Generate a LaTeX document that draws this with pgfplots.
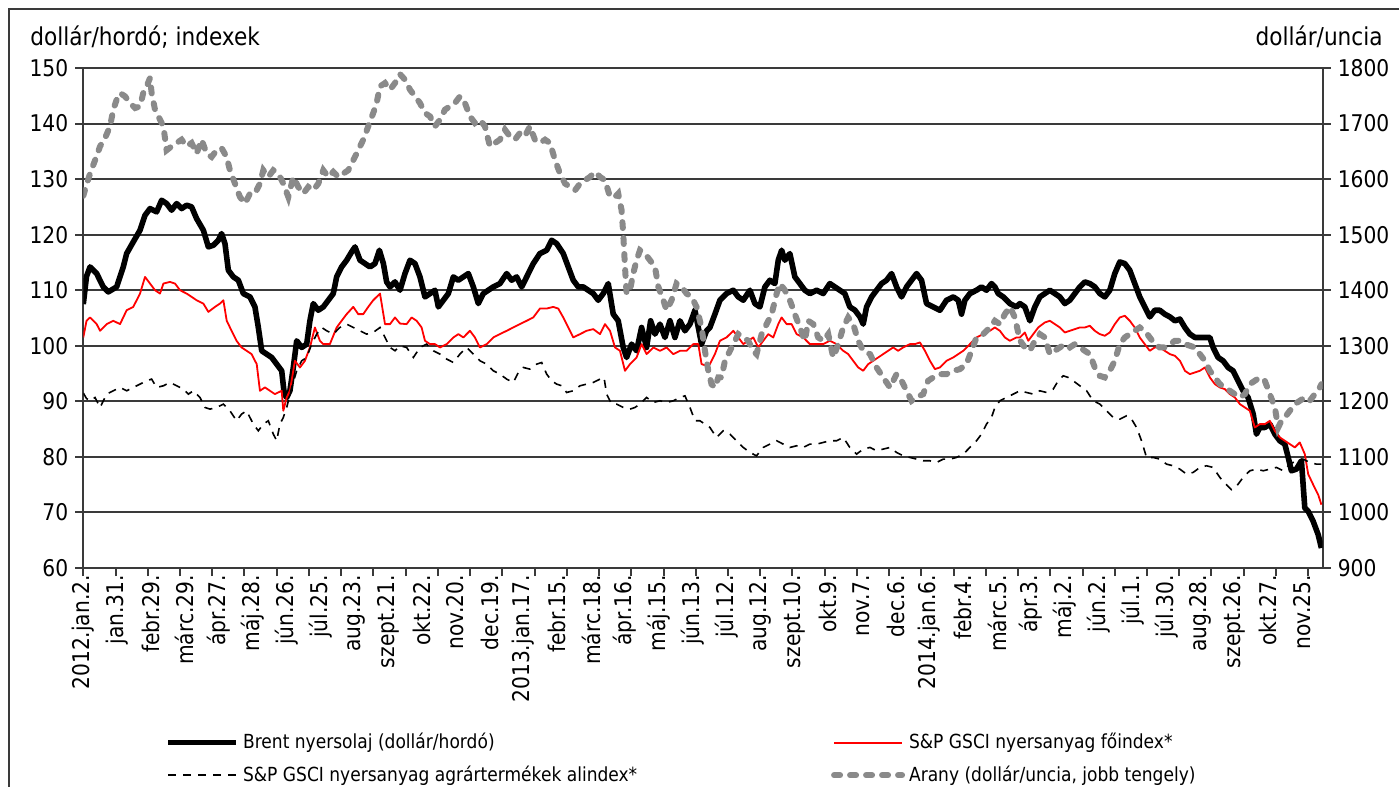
\documentclass[border=0pt]{standalone}
\usepackage{fontspec}
\setmainfont{DejaVu Sans}[FakeStretch=0.88]
\usepackage{pgfplots}
\pgfplotsset{compat=1.18}
\definecolor{gridc}{HTML}{3A3A3A}
\definecolor{goldc}{HTML}{8A8A8A}
\newcommand{\tickfont}{\fontsize{11.5}{13}\selectfont}
\newcommand{\legfont}{\fontsize{9.7}{11}\selectfont}
\newcommand{\unitfont}{\fontsize{12.3}{14}\selectfont}

\begin{document}
\begin{tikzpicture}
\path[use as bounding box] (0pt,0pt) rectangle (699.5pt,-393.5pt);
\draw[gridc, line width=1pt] (4.5pt,-420pt) -- (4.5pt,-4.5pt) -- (720pt,-4.5pt);
\node[anchor=base west, font=\unitfont, inner sep=0pt] at (15pt,-23pt) {dollár/hordó; indexek};
\node[anchor=base east, font=\unitfont, inner sep=0pt] at (691.5pt,-23pt) {dollár/uncia};

% right axis (gold scale)
\begin{axis}[
  at={(41.65pt,-284pt)}, anchor=south west, scale only axis,
  width=619.7pt, height=250pt,
  xmin=0, xmax=769, ymin=900, ymax=1800,
  axis x line=none, axis y line*=right,
  axis line style={-, gridc, line width=1pt},
  ytick={900,1000,...,1800},
  tick style={gridc, line width=1pt},
  tick align=outside, major tick length=4pt,
  yticklabel style={font=\tickfont},
  /pgf/number format/assume math mode=true,
  /pgf/number format/1000 sep={},
]
\end{axis}

% main axis
\begin{axis}[
  at={(41.65pt,-284pt)}, anchor=south west, scale only axis,
  width=619.7pt, height=250pt,
  xmin=0, xmax=769, ymin=60, ymax=150,
  axis x line*=bottom, axis y line*=left,
  axis line style={-, gridc, line width=1pt},
  ytick={60,70,...,150},
  ymajorgrids, grid style={gridc, line width=1pt},
  tick style={gridc, line width=1pt},
  tick align=outside, major tick length=4pt,
  xtick={0,20,...,760}, xticklabels={},
  extra x ticks={0,21,...,756},
  extra x tick labels={2012.jan.2.,jan.31.,febr.29.,márc.29.,ápr.27.,máj.28.,jún.26.,júl.25.,aug.23.,szept.21.,okt.22.,nov.20.,dec.19.,2013.jan.17.,febr.15.,márc.18.,ápr.16.,máj.15.,jún.13.,júl.12.,aug.12.,szept.10.,okt.9.,nov.7.,dec.6.,2014.jan.6.,febr.4.,márc.5.,ápr.3.,máj.2.,jún.2.,júl.1.,júl.30.,aug.28.,szept.26.,okt.27.,nov.25.},
  extra x tick style={major tick length=0pt},
  xticklabel style={rotate=90, anchor=east, font=\tickfont},
  yticklabel style={font=\tickfont},
  /pgf/number format/assume math mode=true,
  legend columns=2,
  legend cell align=left,
  legend style={at={(axis description cs:0.066,-0.322)}, anchor=north west, draw=none, fill=none, inner sep=0pt, font=\legfont, row sep=3pt, column sep=0pt, nodes={inner sep=2pt}},
  legend image code/.code={\draw[#1] (0pt,0pt) -- (34pt,0pt);},
]
% Brent
\addplot[black, line width=2.8pt, line join=round] coordinates {
(0,107.5)(2,112.5)(4.2,114.2)(8.3,113.0)(12.4,110.6)(15.5,109.7)(20.7,110.6)(24.8,114.2)(26.9,116.6)(31.0,118.7)(35.2,120.8)(38.3,123.5)(41.4,124.7)(45.5,124.1)(48.6,126.2)(51.7,125.6)(54.8,124.4)(57.9,125.6)(61.0,124.7)(64.1,125.3)(67.2,125.0)(70.3,122.9)(74.5,120.8)(77.6,117.8)(80.7,118.1)(83.8,119.0)(85.8,120.2)(87.9,118.4)(90.0,113.6)(93.1,112.4)(96.2,111.8)(99.3,109.4)(103.4,108.8)(106.5,107.0)(108.6,103.3)(110.7,99.1)(113.8,98.5)(116.9,97.9)(120.0,96.7)(123.1,95.5)(124.7,91.3)(126.2,90.7)(128.2,91.9)(130.3,96.1)(132.4,100.9)(135.5,99.7)(138.6,100.3)(140.6,104.5)(142.7,107.6)(145.8,106.4)(148.9,107.0)(152.0,108.2)(155.1,109.4)(157.2,112.4)(160.3,114.2)(163.4,115.4)(166.5,116.9)(168.6,117.8)(171.7,115.4)(174.8,114.8)(177.9,114.2)(181.0,114.8)(183.7,117.2)(186.2,114.8)(188.2,111.5)(190.3,110.6)(193.4,111.5)(196.5,110.0)(199.6,113.0)(202.7,115.4)(205.8,114.8)(208.9,112.4)(212.0,108.8)(215.1,109.4)(218.2,110.0)(220.3,107.0)(223.4,108.2)(226.5,109.4)(229.6,112.4)(232.7,111.8)(235.8,112.4)(238.9,113.0)(242.0,110.6)(245.1,107.6)(248.2,109.4)(251.3,110.0)(254.4,110.6)(258.5,111.2)(262.7,113.0)(265.8,111.8)(268.9,112.4)(272.0,110.6)(275.1,112.4)(279.2,114.8)(283.3,116.6)(287.5,117.2)(290.6,119.0)(293.7,118.4)(297.8,116.6)(300.9,114.2)(304.0,111.8)(307.1,110.6)(310.2,110.6)(313.3,110.0)(316.4,109.4)(319.5,108.2)(322.6,109.4)(325.7,111.2)(328.8,105.7)(331.9,104.5)(335.0,99.7)(337.1,97.9)(340.2,100.3)(343.3,99.1)(346.4,103.3)(349.5,99.7)(352.0,104.5)(354.7,102.1)(357.8,103.9)(360.9,101.5)(364.0,104.5)(367.1,101.5)(370.2,104.5)(373.3,102.7)(376.4,103.9)(379.5,106.4)(381.6,103.3)(383.6,100.3)(386.7,102.7)(388.8,103.3)(391.9,105.7)(395.0,108.2)(399.1,109.4)(403.3,110.0)(406.4,108.8)(409.5,108.2)(413.6,110.0)(416.7,107.6)(419.8,107.0)(422.9,110.6)(426.0,111.8)(429.1,111.2)(431.2,115.4)(433.3,117.2)(435.3,115.4)(438.4,116.6)(441.5,112.4)(444.6,111.2)(447.7,110.0)(450.8,109.4)(455.0,110.0)(459.1,109.4)(463.2,111.2)(466.3,110.6)(469.4,110.0)(472.5,109.4)(475.6,107.0)(478.8,106.4)(481.9,105.2)(483.9,103.9)(486.0,107.0)(489.1,108.8)(492.2,110.0)(495.3,111.2)(498.4,111.8)(501.5,113.0)(504.6,110.6)(507.7,108.8)(510.8,110.6)(513.9,111.8)(517.0,113.0)(520.1,111.8)(523.2,107.6)(527.3,107.0)(531.5,106.4)(535.6,108.2)(539.8,108.8)(542.9,108.2)(544.9,105.7)(547.0,108.2)(550.1,109.4)(554.2,110.0)(557.3,110.6)(560.4,110.0)(563.5,111.2)(565.6,110.6)(567.7,109.4)(570.8,108.8)(574.9,107.6)(579.0,107.0)(581.1,107.6)(584.2,107.0)(587.3,104.5)(590.4,107.0)(593.5,108.8)(596.6,109.4)(599.7,110.0)(602.8,109.4)(605.9,108.8)(609.0,107.6)(612.1,108.2)(615.2,109.4)(618.3,110.6)(621.4,111.5)(624.5,111.2)(627.6,110.6)(630.7,109.4)(633.8,108.8)(636.9,110.0)(640.0,113.0)(643.1,115.1)(646.2,114.8)(649.3,113.6)(652.4,111.2)(655.5,108.8)(658.6,107.0)(661.7,105.2)(664.8,106.4)(667.9,106.4)(671.0,105.7)(674.2,105.2)(677.3,104.5)(680.4,104.8)(683.5,103.3)(686.6,102.1)(689.7,101.5)(692.8,101.5)(696.9,101.5)(699.0,101.5)(701.0,99.7)(704.1,97.9)(707.2,97.3)(710.3,96.1)(713.4,95.5)(716.5,93.7)(719.6,91.9)(722.7,90.7)(725.9,87.7)(727.9,84.1)(730.0,85.3)(733.1,85.3)(736.2,85.9)(739.3,84.1)(742.4,82.9)(745.5,82.3)(747.6,79.9)(749.6,77.5)(752.7,77.8)(755.8,79.3)(757.9,70.8)(760.0,70.2)(763.1,68.4)(766.2,66.0)(768.2,63.6)
};
\addlegendentry{\makebox[292pt][l]{Brent nyersolaj (dollár/hordó)}}
% S&P GSCI main index
\addplot[red, line width=0.9pt, line join=round] coordinates {
(0,101.5)(2,104.5)(4.2,105.1)(8.3,103.9)(10.4,102.7)(14.5,103.9)(18.6,104.5)(22.8,103.9)(26.9,106.4)(31.0,107.0)(35.2,109.4)(38.3,112.4)(41.4,111.2)(44.5,110.0)(47.6,109.4)(49.7,111.2)(53.8,111.5)(56.9,111.2)(60.0,110.0)(64.1,109.4)(67.2,108.8)(70.3,108.2)(74.5,107.6)(77.6,106.1)(81.7,107.0)(84.8,107.6)(86.9,108.2)(89.0,104.5)(92.0,102.7)(95.1,100.9)(98.2,99.7)(101.3,99.1)(104.4,98.5)(107.6,96.7)(109.6,91.9)(112.7,92.5)(115.8,91.9)(118.9,91.3)(123.1,91.9)(124.1,88.3)(126.2,90.7)(128.2,91.9)(131.3,97.3)(134.4,96.1)(137.5,97.3)(140.6,99.7)(143.7,103.3)(146.8,100.9)(148.9,100.3)(153.0,100.3)(157.2,103.3)(160.3,104.5)(163.4,105.7)(167.5,107.0)(170.6,105.7)(173.7,105.7)(176.8,107.0)(179.9,108.2)(184.1,109.4)(187.2,103.9)(190.3,103.9)(193.4,105.1)(196.5,104.0)(200.6,103.9)(203.7,105.1)(206.8,104.5)(209.9,103.3)(212.0,100.9)(215.1,100.3)(218.2,100.3)(221.3,99.7)(225.5,100.3)(229.6,101.5)(232.7,102.1)(235.8,101.5)(239.9,102.7)(243.0,101.5)(246.1,99.7)(250.3,100.3)(254.4,101.5)(258.5,102.1)(262.7,102.7)(266.8,103.3)(270.9,103.9)(275.1,104.5)(279.2,105.1)(283.3,106.7)(287.5,106.7)(291.6,107.0)(294.7,106.7)(297.8,105.1)(300.9,103.3)(304.0,101.5)(308.2,102.1)(312.3,102.7)(316.4,103.0)(320.6,102.1)(323.7,103.9)(326.8,102.7)(329.9,99.7)(333.0,99.1)(336.1,95.5)(339.2,96.7)(343.3,97.9)(346.4,100.3)(349.5,98.5)(353.7,99.7)(357.8,99.1)(361.9,99.7)(366.1,98.5)(370.2,99.1)(374.3,99.1)(378.5,100.3)(381.6,100.3)(383.6,96.7)(386.7,96.4)(388.8,96.7)(391.9,98.5)(395.0,100.9)(399.1,101.5)(403.3,102.7)(406.4,101.5)(409.5,100.3)(412.6,100.9)(415.7,101.5)(418.8,99.7)(421.9,100.9)(425.0,102.1)(428.1,101.5)(431.2,103.9)(433.3,105.1)(436.4,103.9)(439.5,103.9)(442.6,102.1)(446.7,101.5)(450.8,100.3)(455.0,100.3)(459.1,100.3)(463.2,100.9)(467.4,100.3)(471.5,99.1)(474.6,98.5)(477.7,97.3)(480.8,96.1)(483.9,95.5)(487.0,96.7)(490.1,97.3)(493.2,97.9)(496.3,98.5)(499.4,99.1)(502.5,99.7)(505.6,99.1)(508.7,99.7)(512.9,100.3)(516.0,100.3)(519.1,100.6)(522.2,99.1)(525.3,97.3)(528.4,95.8)(531.5,96.1)(535.6,97.3)(539.8,97.9)(542.9,98.5)(546.0,99.1)(550.1,100.3)(554.2,101.5)(558.4,102.1)(562.5,102.7)(565.6,103.3)(568.7,102.7)(571.8,101.5)(574.9,100.9)(579.0,101.5)(581.1,101.5)(584.2,102.4)(586.3,100.9)(589.4,102.1)(592.5,103.3)(596.6,104.2)(599.7,104.5)(602.8,103.9)(605.9,103.3)(609.0,102.4)(612.1,102.7)(615.2,103.0)(618.3,103.3)(621.4,103.3)(624.5,103.6)(627.6,102.7)(630.7,102.1)(633.8,101.8)(636.9,102.4)(640.0,103.9)(643.1,105.1)(646.2,105.4)(649.3,104.5)(652.4,103.3)(655.5,101.5)(658.6,100.3)(661.7,99.1)(664.8,99.7)(667.9,99.7)(671.0,99.1)(674.2,98.5)(677.3,98.2)(680.4,97.3)(683.5,95.5)(686.6,94.9)(689.7,95.2)(692.8,95.5)(695.9,96.1)(699.0,94.3)(702.1,93.1)(705.2,92.5)(708.3,92.2)(711.4,91.3)(714.5,90.7)(717.6,89.5)(720.7,88.9)(723.8,88.3)(726.9,85.3)(730.0,85.9)(733.1,85.9)(736.2,86.5)(739.3,84.7)(742.4,83.5)(745.5,82.9)(748.6,82.3)(751.7,81.7)(754.8,82.6)(757.9,80.5)(760.0,76.9)(763.1,75.0)(766.2,73.2)(768.2,71.4)
};
\addlegendentry{S\&P GSCI nyersanyag főindex*}
% S&P GSCI agricultural sub-index
\addplot[black, line width=0.8pt, dash pattern=on 4pt off 3.5pt] coordinates {
(0,91.5)(2,90.5)(4.2,90.1)(7.3,90.7)(10.4,88.9)(14.5,91.3)(18.6,91.9)(22.8,92.5)(26.9,91.9)(31.0,92.5)(35.2,93.1)(39.3,93.7)(42.4,94.0)(45.5,92.5)(49.7,92.8)(53.8,93.4)(57.9,92.8)(62.1,92.2)(65.2,91.3)(68.3,91.9)(72.4,90.7)(75.5,88.9)(78.6,88.6)(82.7,88.9)(86.9,89.5)(91.0,88.3)(95.1,86.5)(98.2,87.7)(101.3,88.3)(105.5,85.9)(108.6,84.7)(111.7,85.9)(114.8,86.5)(117.9,84.1)(120.0,82.9)(122.0,85.9)(124.1,87.1)(126.2,88.9)(129.3,92.5)(132.4,95.5)(135.5,97.3)(138.6,97.9)(141.7,100.3)(144.8,102.1)(147.9,103.3)(151.0,102.7)(155.1,102.1)(159.2,103.3)(163.4,103.9)(167.5,103.3)(171.7,102.7)(175.8,102.1)(179.9,102.4)(184.1,103.3)(187.2,101.5)(190.3,99.7)(193.4,99.1)(196.5,100.0)(200.6,99.7)(204.8,97.9)(208.9,99.7)(213.0,100.3)(217.2,99.1)(221.3,98.5)(225.5,97.6)(229.6,97.0)(233.7,98.5)(237.9,99.7)(242.0,98.5)(246.1,97.3)(250.3,96.7)(254.4,95.5)(258.5,94.9)(262.7,94.0)(266.8,93.4)(269.9,95.2)(273.0,96.1)(277.1,95.8)(281.3,96.7)(284.4,97.0)(287.5,94.9)(290.6,93.7)(293.7,93.1)(296.8,92.8)(299.9,91.6)(304.0,91.9)(308.2,92.8)(312.3,93.1)(316.4,93.4)(320.6,94.0)(323.1,94.3)(324.7,91.3)(327.8,89.5)(330.9,89.5)(335.0,88.9)(339.2,88.6)(342.3,88.9)(345.4,89.5)(349.5,90.7)(353.7,89.8)(357.8,90.1)(361.9,89.8)(366.1,90.1)(370.2,90.7)(373.3,91.0)(376.4,88.9)(379.5,86.5)(382.6,86.5)(385.7,85.9)(388.8,85.3)(392.9,83.5)(397.1,84.7)(401.2,84.1)(405.3,82.9)(409.5,81.7)(413.6,80.8)(417.7,80.2)(421.9,81.7)(426.0,82.3)(430.2,82.9)(434.3,82.3)(438.4,81.7)(442.6,82.0)(446.7,81.7)(450.8,82.3)(455.0,82.3)(459.1,82.6)(463.2,82.9)(467.4,82.9)(471.5,83.5)(475.6,81.7)(479.8,80.5)(483.9,81.4)(488.1,81.7)(492.2,81.1)(496.3,81.4)(500.5,81.7)(504.6,80.8)(508.7,80.2)(512.9,79.9)(517.0,79.6)(521.1,79.3)(525.3,79.3)(529.4,79.0)(533.6,79.6)(537.7,79.6)(541.8,79.9)(546.0,80.5)(550.1,81.7)(554.2,82.9)(557.3,84.1)(560.4,85.9)(563.5,87.1)(565.6,88.9)(568.7,90.1)(572.8,90.7)(577.0,91.3)(581.1,91.9)(585.2,91.6)(589.4,91.3)(593.5,91.9)(597.6,91.6)(601.8,92.2)(604.9,93.7)(608.0,94.6)(611.1,94.3)(614.2,93.7)(618.3,92.8)(622.5,91.9)(626.6,90.1)(630.7,89.5)(634.9,88.3)(639.0,87.1)(643.1,86.8)(647.3,87.4)(650.4,86.8)(653.5,85.3)(656.6,82.9)(659.7,79.9)(663.8,79.9)(668.0,79.6)(672.1,78.7)(676.2,78.4)(680.4,77.8)(684.5,76.9)(688.6,77.2)(692.8,78.1)(696.9,78.4)(701.0,78.1)(705.2,76.3)(709.3,75.0)(712.4,74.1)(715.5,74.7)(719.6,76.3)(723.8,77.5)(727.9,77.8)(732.1,77.5)(736.2,77.8)(740.3,78.1)(744.5,77.5)(748.6,78.7)(752.7,79.3)(756.9,79.6)(761.0,79.0)(765.1,78.7)(768.2,78.7)
};
\addlegendentry{\makebox[292pt][l]{S\&P GSCI nyersanyag agrártermékek alindex*}}
% Gold (right axis, USD/ounce) mapped onto the left scale: 900..1800 -> 60..150
\addplot[goldc, line width=3pt, line cap=round, dash pattern=on 3pt off 5pt] table[x index=0, y expr={60+(\thisrowno{1}-900)/10}] {
d gold
0 1570
2 1590
4.2 1610
7.3 1634
10.4 1659
13.5 1674
16.6 1695
18.6 1725
20.7 1743
22.8 1755
25.9 1749
29.0 1737
32.1 1728
35.2 1731
37.2 1755
39.3 1767
41.4 1782
42.4 1755
44.5 1725
47.6 1707
49.7 1695
51.7 1652
54.8 1659
57.9 1665
61.0 1671
64.1 1659
67.2 1665
70.3 1646
73.4 1671
76.5 1646
79.6 1640
82.7 1652
85.8 1656
88.9 1640
91.0 1616
94.1 1592
97.2 1568
100.3 1556
103.4 1574
106.5 1574
109.6 1592
111.7 1616
114.8 1604
117.9 1616
121.0 1610
124.1 1592
127.2 1568
130.3 1604
133.4 1586
136.5 1574
139.6 1586
142.7 1580
145.8 1592
148.9 1616
152.0 1604
155.1 1613
158.2 1604
161.3 1610
164.4 1616
167.5 1634
170.6 1652
173.7 1671
176.8 1695
179.9 1719
182.0 1737
184.1 1767
187.2 1773
190.3 1761
193.4 1773
196.5 1789
199.6 1779
202.7 1761
205.8 1749
208.9 1737
212.0 1719
215.1 1713
218.2 1695
221.3 1707
224.4 1725
227.5 1731
230.6 1737
233.7 1749
236.8 1737
239.9 1713
243.0 1701
246.1 1707
249.2 1695
252.3 1659
255.4 1665
258.5 1671
261.6 1689
264.7 1677
267.8 1671
270.9 1683
274.0 1677
277.1 1695
280.2 1671
283.3 1665
286.5 1671
289.6 1665
292.7 1634
295.8 1610
298.9 1592
302.0 1586
305.1 1580
308.2 1592
311.3 1598
314.4 1604
317.5 1613
320.6 1604
323.7 1598
326.8 1568
329.9 1568
331.9 1574
334.0 1544
335.0 1502
336.1 1442
337.1 1394
339.2 1400
341.2 1430
343.3 1454
345.4 1472
348.5 1466
351.6 1454
354.7 1442
356.8 1406
359.9 1382
361.9 1364
365.0 1382
368.1 1412
371.2 1406
374.3 1394
377.4 1388
380.5 1370
383.6 1333
385.7 1291
387.8 1255
389.8 1231
391.9 1225
394.0 1243
396.0 1243
398.1 1273
400.2 1285
403.3 1303
406.4 1321
409.5 1315
412.6 1309
415.7 1291
417.7 1285
420.9 1321
424.0 1339
427.1 1357
430.2 1394
432.2 1412
435.3 1400
438.4 1382
441.5 1357
444.6 1333
447.7 1309
449.8 1345
452.9 1339
456.0 1315
459.1 1309
462.2 1321
465.3 1279
468.4 1303
471.5 1333
474.6 1351
477.7 1339
480.8 1309
483.9 1291
488.1 1285
492.2 1261
496.3 1243
500.5 1225
504.6 1249
507.7 1237
510.8 1219
513.9 1201
517.0 1207
521.1 1213
524.2 1237
527.3 1243
531.5 1249
535.6 1249
539.8 1255
543.9 1258
548.0 1267
551.1 1291
554.2 1315
558.4 1321
562.5 1333
565.6 1345
568.7 1339
571.8 1357
574.9 1370
578.0 1351
581.1 1310
584.2 1297
587.3 1291
590.4 1309
593.5 1321
596.6 1315
599.7 1285
602.8 1291
605.9 1297
609.0 1303
612.1 1297
615.2 1303
618.3 1297
621.4 1291
624.5 1285
627.6 1261
630.7 1246
633.8 1243
636.9 1255
640.0 1273
643.1 1303
646.2 1315
649.3 1321
652.4 1327
655.5 1333
658.6 1327
661.7 1315
664.8 1303
667.9 1297
671.0 1297
674.2 1303
677.3 1309
680.4 1309
683.5 1303
686.6 1300
689.7 1297
692.8 1285
695.9 1273
699.0 1255
702.1 1243
705.2 1231
708.3 1225
711.4 1219
714.5 1213
717.6 1207
720.7 1213
723.8 1231
726.9 1237
730.0 1243
733.1 1237
736.2 1213
739.3 1189
741.4 1153
743.4 1165
745.5 1171
748.6 1183
751.7 1195
754.8 1201
757.9 1207
761.0 1201
764.1 1213
767.2 1225
768.2 1231
};
\addlegendentry{Arany (dollár/uncia, jobb tengely)}
\end{axis}
\end{tikzpicture}
\end{document}
